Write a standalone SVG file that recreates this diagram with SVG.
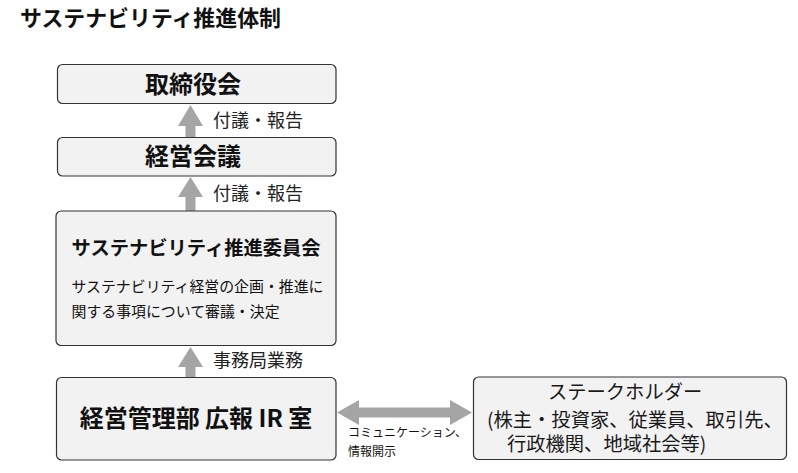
<svg xmlns="http://www.w3.org/2000/svg" width="798" height="473" viewBox="0 0 798 473">
<style>
.box{fill:#f2f2f2;stroke:#333;stroke-width:1.2}
.arr{fill:#a5a5a5}
text{font-family:"Noto Sans CJK JP","Noto Sans",sans-serif;fill:#111}
.b{font-weight:bold}
.c{text-anchor:middle}
.lbl{font-size:18px;fill:#222}
.sh{font-size:19.3px;fill:#1a1a1a}
</style>
<rect width="798" height="473" fill="#fff"/>
<text class="b" x="20" y="26" font-size="21.9">サステナビリティ推進体制</text>
<g id="connectors">
<polygon class="arr" points="190.5,105 203,126 195.5,126 195.5,137.5 185.5,137.5 185.5,126 178,126"/>
<polygon class="arr" points="190.5,177 203,197 195.5,197 195.5,211 185.5,211 185.5,197 178,197"/>
<polygon class="arr" points="190.5,347 203,367 195.5,367 195.5,377.5 185.5,377.5 185.5,367 178,367"/>
<polygon class="arr" points="337,412.5 359,400 359,407.5 450,407.5 450,400 472,412.5 450,425 450,417.5 359,417.5 359,425"/>
<text class="lbl" x="213" y="127">付議・報告</text>
<text class="lbl" x="213" y="200">付議・報告</text>
<text class="lbl" x="213" y="366.5">事務局業務</text>
<text x="348" y="437" font-size="12" fill="#333">コミュニケーション、</text>
<text x="348" y="456" font-size="12" fill="#333">情報開示</text>
</g>
<g id="board">
<rect class="box" x="57.5" y="64.5" width="278.5" height="39" rx="5"/>
<text class="b c" x="193" y="93" font-size="24">取締役会</text>
</g>
<g id="mgmt-meeting">
<rect class="box" x="57.5" y="137.5" width="278.5" height="38.5" rx="5"/>
<text class="b c" x="193" y="165" font-size="24">経営会議</text>
</g>
<g id="committee">
<rect class="box" x="56" y="211" width="280" height="134.5" rx="5"/>
<text class="b" x="71.5" y="255" font-size="19.3">サステナビリティ推進委員会</text>
<text x="71.5" y="292" font-size="14.9">サステナビリティ経営の企画・推進に</text>
<text x="71.5" y="317" font-size="14.9">関する事項について審議・決定</text>
</g>
<g id="ir-office">
<rect class="box" x="56.5" y="377.5" width="279.5" height="82.5" rx="5"/>
<text class="b c" x="196" y="426.5" font-size="24">経営管理部 広報 IR 室</text>
</g>
<g id="stakeholders">
<rect class="box" x="473.5" y="377" width="313" height="82.5" rx="5"/>
<text class="sh" x="548" y="399">ステークホルダー</text>
<text class="sh" x="487" y="426.5">(株主・投資家、従業員、取引先、</text>
<text class="sh" x="507" y="450.5">行政機関、地域社会等)</text>
</g>
</svg>
